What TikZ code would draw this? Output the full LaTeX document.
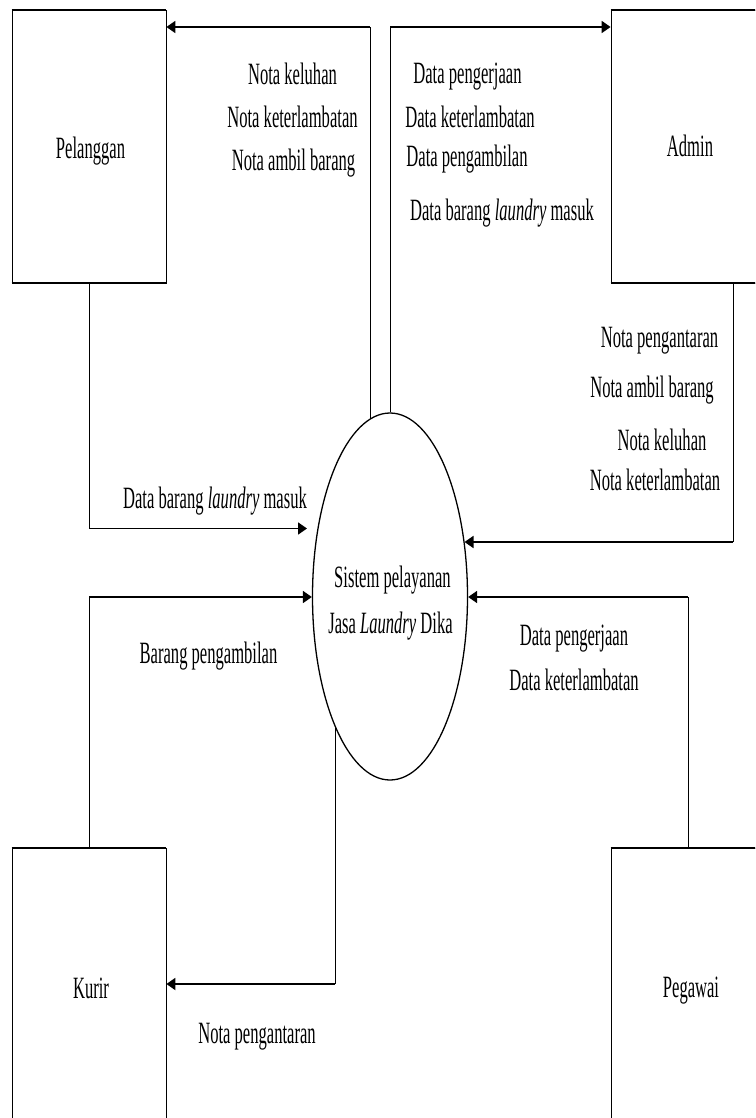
\documentclass[tikz,border=0pt]{standalone}
\usepackage{fontspec}
\setmainfont{Liberation Serif}[FakeStretch=0.535]
\usetikzlibrary{shapes.geometric,arrows.meta}
\begin{document}
\begin{tikzpicture}[x=1pt,y=-1pt,
  txt/.style={font=\fontsize{31}{36}\selectfont, inner sep=0pt},
  lb/.style={txt, anchor=base},
  entity/.style={draw=black, line width=0.8pt, minimum width=154pt, minimum height=273pt, inner sep=0pt},
  edgeline/.style={line width=2pt},
  proc/.style={draw=black, ellipse, line width=1.3pt, minimum width=155pt, minimum height=367pt, inner sep=0pt},
  vline/.style={line width=0.8pt},
  harr/.style={line width=1.8pt, -{Triangle[length=9pt,width=12pt]}}
]
\useasboundingbox (0,0) rectangle (755,1118);
\clip (0,0) rectangle (755,1118);
\fill[white] (0,0) rectangle (755,1118);

% entities and process
\node[entity] (P) at (89,146.5) {};
\node[entity] (A) at (688,146.5) {};
\node[entity] (K) at (89,984.5) {};
\node[entity] (G) at (688,984.5) {};
\node[proc] (S) at (390,596.5) {};
\foreach \n in {P,A,K,G} {
  \draw[edgeline] (\n.north west) -- (\n.north east);
  \draw[edgeline] (\n.south west) -- (\n.south east);
}

\node[lb] (tP) at (90.5,159) {Pelanggan};
\node[lb] (tA) at (690,157) {Admin};
\node[lb] (tK) at (91,998) {Kurir};
\node[lb] (tG) at (691,997) {Pegawai};
\node[lb] (tS1) at (392.5,587) {Sistem pelayanan};
\node[lb] (tS2) at (390.5,633) {Jasa \textit{Laundry} Dika};

% connectors
\coordinate (s1) at (370,419);
\coordinate (b1) at (370,27);
\draw[vline] (s1) -- (b1);
\draw[harr] (b1) -- (b1 -| P.east);

\coordinate (b2) at (390,27);
\draw[vline] (S.north) -- (b2);
\draw[harr] (b2) -- (b2 -| A.west);

\coordinate (b3) at (733,542);
\coordinate (s3) at (464.5,542);
\draw[vline] (A.south -| b3) -- (b3);
\draw[harr] (b3) -- (s3);

\coordinate (b4) at (89,528.5);
\coordinate (s4) at (307,528.5);
\draw[vline] (P.south) -- (b4);
\draw[harr] (b4) -- (s4);

\coordinate (b5) at (89,597);
\draw[vline] (K.north) -- (b5);
\draw[harr] (b5) -- (b5 -| S.west);

\coordinate (b6) at (688,597);
\draw[vline] (G.north) -- (b6);
\draw[harr] (b6) -- (b6 -| S.east);

\coordinate (s7) at (335,726);
\coordinate (b7) at (335,984);
\draw[vline] (s7) -- (b7);
\draw[harr] (b7) -- (b7 -| K.east);

% flow labels
\node[lb] (l1) at (292.5,85) {Nota keluhan};
\node[lb] (l2) at (292.5,128) {Nota keterlambatan};
\node[lb] (l3) at (293.5,170.5) {Nota ambil barang};

\node[lb] (l4) at (467.5,84) {Data pengerjaan};
\node[lb] (l5) at (470,128) {Data keterlambatan};
\node[lb] (l6) at (467,167) {Data pengambilan};
\node[lb] (l7) at (502,220) {Data barang \textit{laundry} masuk};

\node[lb] (l8) at (659.5,347) {Nota pengantaran};
\node[lb] (l9) at (652,397) {Nota ambil barang};
\node[lb] (l10) at (662,450) {Nota keluhan};
\node[lb] (l11) at (655,490) {Nota keterlambatan};

\node[lb] (l12) at (215,508) {Data barang \textit{laundry} masuk};
\node[lb] (l13) at (208.5,663) {Barang pengambilan};
\node[lb] (l14) at (574,645) {Data pengerjaan};
\node[lb] (l15) at (574,690) {Data keterlambatan};
\node[lb] (l16) at (257,1043) {Nota pengantaran};
\end{tikzpicture}
\end{document}
